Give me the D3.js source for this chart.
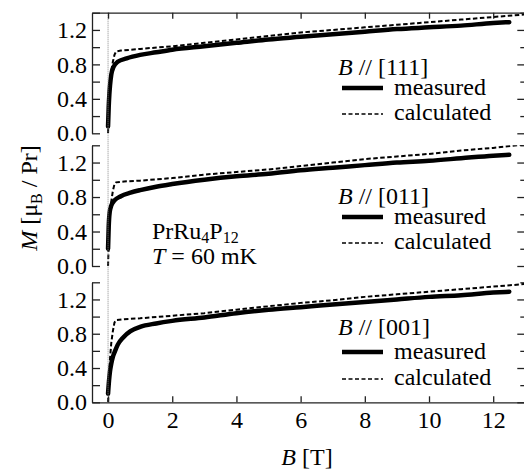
<!DOCTYPE html>
<html>
<head>
<meta charset="utf-8">
<script src="https://cdn.jsdelivr.net/npm/d3@7"></script>
<style>
  html, body { margin: 0; padding: 0; background: #fff; }
  svg { display: block; font-family: "Liberation Serif", "Times New Roman", serif; }
</style>
</head>
<body>
<svg id="chart" width="524" height="469"></svg>
<script>
// Magnetization curves of PrRu4P12 at T = 60 mK for three field directions
const directions = ["[111]", "[011]", "[001]"];
const yTicks = [0, 0.4, 0.8, 1.2];
const yMinorTicks = [0.2, 0.6, 1.0, 1.4];
const xTicks = [0, 2, 4, 6, 8, 10, 12];

// B // [111]
const meas111B = [0.0, 0.02, 0.04, 0.06, 0.1, 0.17, 0.3, 0.58, 1.0, 1.5, 2, 3, 4, 5, 6, 7, 8, 9, 10, 11, 12, 12.5];
const meas111M = [0.08, 0.3, 0.45, 0.55, 0.68, 0.77, 0.83, 0.87, 0.91, 0.94, 0.97, 1.01, 1.05, 1.09, 1.12, 1.15, 1.18, 1.21, 1.23, 1.25, 1.28, 1.29];
const calc111B = [0, 0.03, 0.06, 0.1, 0.15, 0.2, 0.25, 0.4, 1, 2, 3, 4, 5, 6, 7, 8, 9, 10, 11, 12, 13];
const calc111M = [0, 0.4, 0.6, 0.72, 0.83, 0.91, 0.95, 0.96, 0.98, 1.01, 1.05, 1.09, 1.13, 1.17, 1.2, 1.23, 1.26, 1.29, 1.32, 1.35, 1.38];

// B // [011]
const meas011B = [0.0, 0.02, 0.05, 0.1, 0.2, 0.4, 0.7, 1, 1.5, 2, 3, 4, 5, 6, 7, 8, 9, 10, 11, 12, 12.5];
const meas011M = [0.2, 0.45, 0.62, 0.7, 0.76, 0.81, 0.85, 0.88, 0.92, 0.95, 1.0, 1.04, 1.07, 1.11, 1.14, 1.17, 1.2, 1.22, 1.25, 1.28, 1.29];
const calc011B = [0, 0.03, 0.06, 0.1, 0.15, 0.2, 0.25, 0.5, 1, 2, 3, 4, 5, 6, 7, 8, 9, 10, 11, 12, 13];
const calc011M = [0, 0.4, 0.62, 0.75, 0.87, 0.95, 0.97, 0.98, 0.99, 1.02, 1.06, 1.09, 1.12, 1.16, 1.2, 1.24, 1.27, 1.3, 1.34, 1.37, 1.41];

// B // [001]
const meas001B = [0.0, 0.03, 0.06, 0.1, 0.15, 0.22, 0.3, 0.48, 0.7, 1, 1.5, 2, 3, 4, 5, 6, 7, 8, 9, 10, 11, 12, 12.5];
const meas001M = [0.1, 0.25, 0.36, 0.45, 0.53, 0.6, 0.67, 0.76, 0.83, 0.88, 0.92, 0.95, 0.99, 1.04, 1.08, 1.11, 1.14, 1.17, 1.2, 1.23, 1.25, 1.28, 1.29];
const calc001B = [0, 0.03, 0.06, 0.1, 0.15, 0.2, 0.25, 0.5, 1, 2, 3, 4, 5, 6, 7, 8, 9, 10, 11, 12, 13];
const calc001M = [0, 0.3, 0.5, 0.69, 0.83, 0.93, 0.96, 0.97, 0.98, 1.01, 1.04, 1.08, 1.12, 1.16, 1.19, 1.23, 1.26, 1.29, 1.32, 1.35, 1.38];

const zip = (bs, ms) => bs.map((b, i) => [b, ms[i]]);
const series = [
  { dir: directions[0], meas: zip(meas111B, meas111M), calc: zip(calc111B, calc111M) },
  { dir: directions[1], meas: zip(meas011B, meas011M), calc: zip(calc011B, calc011M) },
  { dir: directions[2], meas: zip(meas001B, meas001M), calc: zip(calc001B, calc001M) }
];

// Layout
const svg = d3.select("#chart");
const FS = 24;
const axisColor = "#222";
const x = d3.scaleLinear().domain([-0.5, 13]).range([92, 525.3]);
const panelBox = [
  { top: 12.7, bottom: 133.3, head: 75, rowM: 95, rowC: 120 },
  { top: 145.3, bottom: 266.0, head: 204, rowM: 224, rowC: 249 },
  { top: 282.3, bottom: 402.3, head: 335, rowM: 359, rowC: 385 }
];

const defs = svg.append("defs");

series.forEach((s, i) => {
  const box = panelBox[i];
  const y = d3.scaleLinear().domain([0, 1.4]).range([box.bottom, box.top]);
  const g = svg.append("g");

  defs.append("clipPath").attr("id", "clip" + i)
    .append("rect")
    .attr("x", x.range()[0]).attr("y", box.top)
    .attr("width", x.range()[1] - x.range()[0]).attr("height", box.bottom - box.top);

  // left axis: major ticks with labels, minor ticks without
  const left = g.append("g").attr("transform", `translate(${x.range()[0]},0)`)
    .call(d3.axisLeft(y).tickValues(yTicks).tickSize(-8).tickSizeOuter(0).tickPadding(5).tickFormat(d3.format(".1f")));
  left.append("g").call(d3.axisLeft(y).tickValues(yMinorTicks).tickSize(-8).tickSizeOuter(0).tickFormat(""))
    .select(".domain").remove();

  // right axis: inward ticks only
  const right = g.append("g").attr("transform", `translate(${x.range()[1]},0)`)
    .call(d3.axisRight(y).tickValues(yTicks).tickSize(-8).tickSizeOuter(0).tickFormat(""));
  right.append("g").call(d3.axisRight(y).tickValues(yMinorTicks).tickSize(-5).tickSizeOuter(0).tickFormat(""))
    .select(".domain").remove();

  [left, right].forEach(a => {
    a.selectAll(".domain, line").attr("stroke", axisColor).attr("stroke-width", 1.3);
    a.selectAll("text").attr("font-size", FS).attr("font-family", "Liberation Serif").attr("fill", "#000");
  });

  const line = d3.line().x(d => x(d[0])).y(d => y(d[1]));
  const plot = g.append("g").attr("clip-path", `url(#clip${i})`);
  plot.append("path").datum(s.calc)
    .attr("d", line.curve(d3.curveLinear))
    .attr("fill", "none").attr("stroke", "#000").attr("stroke-width", 2)
    .attr("stroke-dasharray", "4.5,2.5");
  plot.append("path").datum(s.meas)
    .attr("d", line.curve(d3.curveMonotoneX))
    .attr("fill", "none").attr("stroke", "#000").attr("stroke-width", 4.5)
    .attr("stroke-linecap", "round");

  // legend
  const lg = g.append("g").attr("font-size", FS);
  const t = lg.append("text").attr("x", 338).attr("y", box.head);
  t.append("tspan").attr("font-style", "italic").text("B");
  t.append("tspan").text(" // " + s.dir);
  lg.append("line").attr("x1", 342).attr("x2", 383).attr("y1", box.rowM - 7).attr("y2", box.rowM - 7)
    .attr("stroke", "#000").attr("stroke-width", 4.5);
  lg.append("text").attr("x", 394).attr("y", box.rowM).text("measured");
  lg.append("line").attr("x1", 342).attr("x2", 383).attr("y1", box.rowC - 6).attr("y2", box.rowC - 6)
    .attr("stroke", "#000").attr("stroke-width", 1.5).attr("stroke-dasharray", "4,2.5");
  lg.append("text").attr("x", 394).attr("y", box.rowC).text("calculated");
});

// zero-field reference line
svg.append("line")
  .attr("x1", x(0)).attr("x2", x(0))
  .attr("y1", panelBox[0].top).attr("y2", panelBox[2].bottom)
  .attr("stroke", "#888").attr("stroke-width", 1).attr("stroke-dasharray", "1,1");

// top frame of the upper panel
const topAx = svg.append("g").attr("transform", `translate(0,${panelBox[0].top})`)
  .call(d3.axisTop(x).tickValues(xTicks).tickSize(-6).tickSizeOuter(0).tickFormat(""));
// field axis under the lower panel
const botAx = svg.append("g").attr("transform", `translate(0,${panelBox[2].bottom})`)
  .call(d3.axisBottom(x).tickValues(xTicks).tickSize(-6).tickSizeOuter(0).tickPadding(9).tickFormat(d3.format("d")));
[topAx, botAx].forEach(a => {
  a.selectAll(".domain, line").attr("stroke", axisColor).attr("stroke-width", 1.3);
  a.selectAll("text").attr("font-size", FS).attr("font-family", "Liberation Serif").attr("fill", "#000");
});

// sample annotation
const ann = svg.append("g").attr("font-size", FS);
const a1 = ann.append("text").attr("x", 152).attr("y", 239);
a1.append("tspan").text("PrRu");
a1.append("tspan").attr("font-size", 16).attr("dy", 4).text("4");
a1.append("tspan").attr("dy", -4).text("P");
a1.append("tspan").attr("font-size", 16).attr("dy", 4).text("12");
const a2 = ann.append("text").attr("x", 152).attr("y", 264);
a2.append("tspan").attr("font-style", "italic").text("T");
a2.append("tspan").text(" = 60 mK");

// axis titles
const yl = svg.append("text").attr("font-size", FS).attr("text-anchor", "middle")
  .attr("transform", "translate(37,198) rotate(-90)");
yl.append("tspan").attr("font-style", "italic").text("M");
yl.append("tspan").text(" [μ");
yl.append("tspan").attr("font-size", 16).attr("dy", 5).text("B");
yl.append("tspan").attr("dy", -5).text(" / Pr]");

const xl = svg.append("text").attr("font-size", FS).attr("text-anchor", "middle")
  .attr("x", 307).attr("y", 465);
xl.append("tspan").attr("font-style", "italic").text("B");
xl.append("tspan").text(" [T]");
</script>
</body>
</html>
